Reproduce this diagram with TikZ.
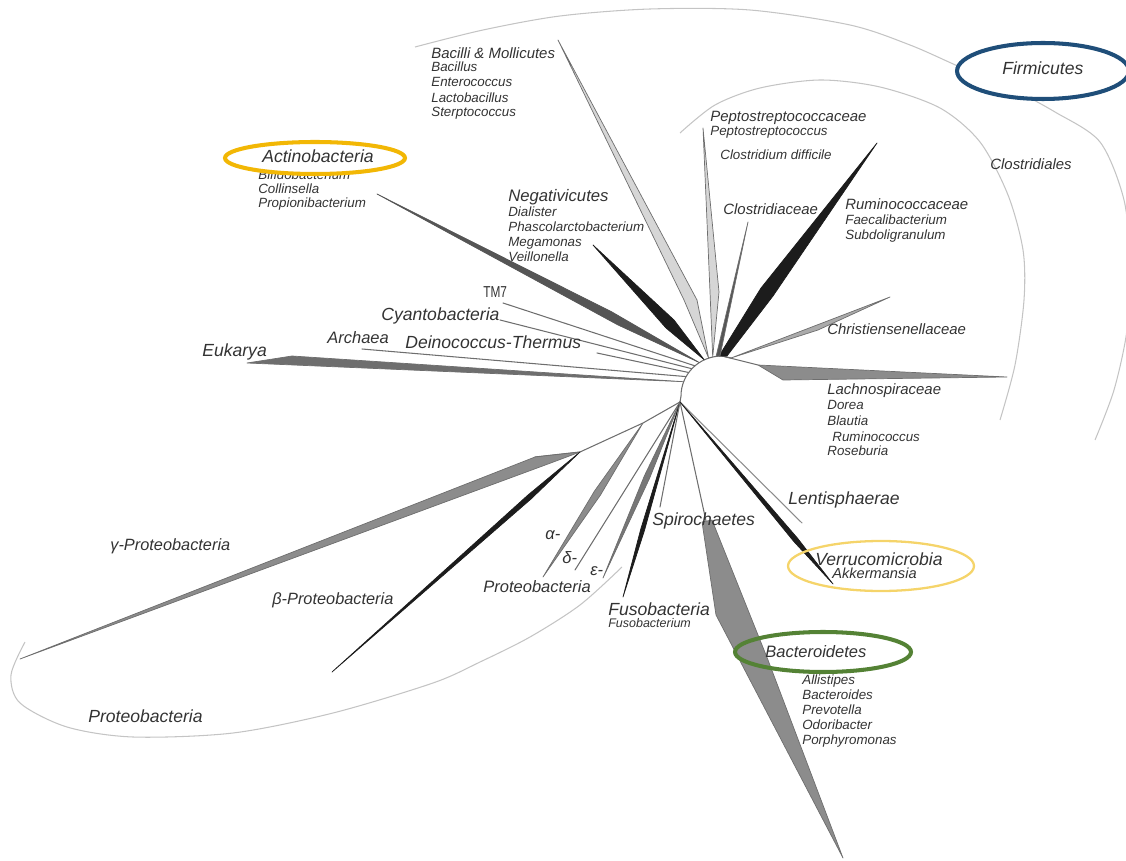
\documentclass[tikz,border=0pt]{standalone}
\usepackage{graphicx}
\usepackage{fontspec}
\setmainfont{Liberation Sans}
\begin{document}
\begin{tikzpicture}[x=0.02cm,y=-0.02cm,
  branch/.style={draw=treecolor1,line width=0.6pt,line cap=round},
  wedge/.style={draw=treecolor1,line width=0.4pt,line join=round},
  ring/.style={draw=treecolor2,line width=0.6pt},
  oval/.style={line width=2.3pt},
  phylum/.style={anchor=base west,inner sep=0pt,text=treecolor0,font=\fontsize{10}{12}\selectfont\itshape},
  family/.style={anchor=base west,inner sep=0pt,text=treecolor0,font=\fontsize{8.5}{10}\selectfont\itshape},
  genus/.style={anchor=base west,inner sep=0pt,text=treecolor0,font=\fontsize{7.6}{9}\selectfont\itshape}]
\definecolor{treecolor0}{HTML}{333333}
\definecolor{treecolor1}{HTML}{6E6E6E}
\definecolor{treecolor2}{HTML}{C4C4C4}
\definecolor{treecolor3}{HTML}{1C1C1C}
\definecolor{treecolor4}{HTML}{555555}
\definecolor{treecolor5}{HTML}{8C8C8C}
\definecolor{treecolor6}{HTML}{D6D6D6}
\definecolor{treecolor7}{HTML}{1F4E79}
\definecolor{treecolor8}{HTML}{F2B705}
\definecolor{treecolor9}{HTML}{F5D46A}
\definecolor{treecolor10}{HTML}{548235}
\useasboundingbox (0,0) rectangle (1126,861);
\clip (0,0) rectangle (1126,861);
% group arcs
\draw[ring] plot[smooth] coordinates {(415,47) (483,30) (560,16) (650,9) (750,10) (850,25) (910,45) (960,67) (1010,88) (1055,112) (1100,142) (1124,200) (1130,265) (1127,330) (1114,390) (1095,440)};
\draw[ring] plot[smooth] coordinates {(680,133) (715,105) (760,88) (820,80) (880,87) (940,108) (980,142) (1008,195) (1023,250) (1024,300) (1015,365) (1000,420)};
\draw[ring] plot[smooth] coordinates {(25,642) (11,675) (20,703) (67,727) (133,737) (233,733) (333,713) (433,683) (480,662) (530,637) (580,605) (622,567)};
% hub
\coordinate (top) at (722,356);
\coordinate (hub) at (680,402);
\coordinate (prot) at (643,423);
\coordinate (gam) at (580,452);
\draw[branch] (top) .. controls (699,356) and (681,374) .. (681,396) -- (hub);
\coordinate (a-clo) at (716.1,356.3);
\coordinate (a-pep) at (712.7,356.9);
\coordinate (a-bac) at (708.6,358.0);
\coordinate (a-neg) at (704.1,359.7);
\coordinate (a-act) at (699.2,362.5);
\coordinate (a-tm7) at (694.8,365.8);
\coordinate (a-cya) at (691.7,368.7);
\coordinate (a-dei) at (688.6,372.5);
\coordinate (a-arc) at (686.0,376.6);
\coordinate (a-euk) at (683.7,381.7);
% tips
\coordinate (lachno) at (1007,377);
\coordinate (christ) at (890,297);
\coordinate (rumin) at (877,143);
\coordinate (clostr) at (748,222);
\coordinate (pepto) at (703,128);
\coordinate (bacil) at (558,40);
\coordinate (negat) at (593,245);
\coordinate (actino) at (377,194);
\coordinate (tm7) at (503,303);
\coordinate (cyan) at (500,320);
\coordinate (dein) at (597,353);
\coordinate (arch) at (362,349);
\coordinate (euk) at (247,363);
\coordinate (gamma) at (20,659);
\coordinate (beta) at (332,672);
\coordinate (alpha) at (543,577);
\coordinate (delta) at (575,570);
\coordinate (eps) at (603,578);
\coordinate (fuso) at (623,597);
\coordinate (spiro) at (660,507);
\coordinate (bact) at (843,858);
\coordinate (lenti) at (802,523);
\coordinate (verru) at (833,584);
% Firmicutes side
\draw[branch] (top) -- (758,365);
\filldraw[wedge,fill=treecolor5] (758,365) -- (lachno) -- (783,380) -- cycle;
\filldraw[wedge,fill=treecolor6!80!black] (731,358) -- (christ) -- (818,330) -- cycle;
\draw[branch] (top) -- (731,358);
\filldraw[wedge,draw=treecolor3,fill=treecolor3] (rumin) -- (773,296) -- (727,356) -- (719,356) -- (761,288) -- cycle;
\filldraw[wedge,fill=treecolor4] (clostr) -- (720,356) -- (a-clo) -- cycle;
\filldraw[wedge,fill=treecolor6] (pepto) -- (719,292) -- (a-pep) -- (710,292) -- cycle;
\filldraw[wedge,fill=treecolor6] (bacil) -- (697,300) -- (a-bac) -- (684,300) -- cycle;
\filldraw[wedge,draw=treecolor3,fill=treecolor3] (negat) -- (674,320) -- (a-neg) -- (666,328) -- cycle;
% other phyla on the upper arc
\filldraw[wedge,draw=treecolor4,fill=treecolor4] (actino) -- (612,312) -- (a-act) -- (618,325) -- cycle;
\draw[branch] (tm7) -- (a-tm7);
\draw[branch] (cyan) -- (a-cya);
\draw[branch] (dein) -- (a-dei);
\draw[branch] (arch) -- (a-arc);
\filldraw[wedge,fill=treecolor4!85] (euk) -- (292,356) -- (a-euk) -- cycle;
% lower hub
\draw[branch] (hub) -- (prot) -- (gam) -- (535,457);
\filldraw[wedge,fill=treecolor5] (gamma) -- (535,457) -- (gam) -- (548,464) -- cycle;
\filldraw[wedge,draw=treecolor3,fill=treecolor3] (beta) -- (528,495) -- (gam) -- (531,499) -- cycle;
\filldraw[wedge,fill=treecolor5] (alpha) -- (600.5,495) -- (prot) -- (594.5,491) -- cycle;
\draw[branch] (delta) -- (hub);
\filldraw[wedge,fill=treecolor4!80] (eps) -- (649.7,478) -- (hub) -- (644.3,476) -- cycle;
\filldraw[wedge,draw=treecolor3,fill=treecolor3] (fuso) -- (644.6,530) -- (hub) -- (640.8,529) -- cycle;
\draw[branch] (spiro) -- (hub);
\draw[branch] (hub) -- (706,521);
\filldraw[wedge,fill=treecolor5] (702,522) -- (712,520) -- (768,660) -- (bact) -- (716,615) -- cycle;
\draw[branch,draw=treecolor5] (hub) -- (lenti);
\filldraw[wedge,draw=treecolor3,fill=treecolor3] (hub) -- (797.6,538.3) -- (verru) -- (793.8,541.5) -- cycle;
% highlighted groups
\draw[oval,draw=treecolor7,fill=white] (1043,71) ellipse [x radius=1.72cm,y radius=0.56cm];
\node[genus] (bifido) at (258,180) {Bifidobacterium};
\draw[oval,draw=treecolor8,fill=white] (315,158) ellipse [x radius=1.8cm,y radius=0.32cm];
\draw[oval,line width=1.3pt,draw=treecolor9] (881,566) ellipse [x radius=1.86cm,y radius=0.5cm];
\draw[oval,draw=treecolor10] (823,652) ellipse [x radius=1.76cm,y radius=0.4cm];
% labels
\node[phylum] (firmicutes) at (1002,75) {Firmicutes};
\node[family] (clostridiales) at (990,170) {Clostridiales};
\node[family] (bacilli) at (431,59) {Bacilli \& Mollicutes};
\node[genus] (bacillus) at (431,72) {Bacillus};
\node[genus] (entero) at (431,87) {Enterococcus};
\node[genus] (lacto) at (431,103) {Lactobacillus};
\node[genus] (strepto) at (431,117) {Sterptococcus};
\node[family] (peptofam) at (710,122) {Peptostreptococcaceae};
\node[genus] (peptogen) at (710,136) {Peptostreptococcus};
\node[genus] (cdiff) at (720,160) {Clostridium difficile};
\node[family] (clostrfam) at (723,215) {Clostridiaceae};
\node[family] (ruminfam) at (845,210) {Ruminococcaceae};
\node[genus] (faecali) at (845,225) {Faecalibacterium};
\node[genus] (subdoli) at (845,240) {Subdoligranulum};
\node[family] (christfam) at (827,335) {Christiensenellaceae};
\node[family] (lachnofam) at (827,395) {Lachnospiraceae};
\node[genus] (dorea) at (827,410) {Dorea};
\node[genus] (blautia) at (827,426) {Blautia};
\node[genus] (ruminoc) at (832,441) {Ruminococcus};
\node[genus] (roseb) at (827,456) {Roseburia};
\node[phylum] (actinolab) at (262,163) {Actinobacteria};
\node[genus] (collin) at (258,194) {Collinsella};
\node[genus] (propioni) at (258,208) {Propionibacterium};
\node[phylum,font=\fontsize{9.5}{11}\selectfont\itshape] (negatlab) at (508,202) {Negativicutes};
\node[genus] (dialister) at (508,217) {Dialister};
\node[genus] (phasco) at (508,232) {Phascolarctobacterium};
\node[genus] (megamonas) at (508,247) {Megamonas};
\node[genus] (veillon) at (508,262) {Veillonella};
\node[phylum,font=\fontsize{9}{11}\selectfont] (tm7lab) at (483,298) {\scalebox{0.75}[1]{TM7}};
\node[phylum] (cyanlab) at (381,321) {Cyantobacteria};
\node[phylum] (deinlab) at (405,349) {Deinococcus-Thermus};
\node[phylum,font=\fontsize{9.4}{11}\selectfont\itshape] (archlab) at (327,344) {Archaea};
\node[phylum] (euklab) at (202,357) {Eukarya};
\node[phylum] (lentilab) at (788,504) {Lentisphaerae};
\node[phylum] (verrulab) at (815,565) {Verrucomicrobia};
\node[family,font=\fontsize{8.3}{10}\selectfont\itshape] (akker) at (832,578) {Akkermansia};
\node[phylum] (spirolab) at (652,525) {Spirochaetes};
\node[phylum,font=\fontsize{9.4}{11}\selectfont\itshape] (alphalab) at (545,540) {α-};
\node[phylum,font=\fontsize{9.4}{11}\selectfont\itshape] (deltalab) at (562,563) {δ-};
\node[phylum,font=\fontsize{9.4}{11}\selectfont\itshape] (epslab) at (590,575) {ε-};
\node[phylum,font=\fontsize{9.4}{11}\selectfont\itshape] (protlab) at (483,592) {Proteobacteria};
\node[phylum] (fusolab) at (608,615) {Fusobacteria};
\node[genus,font=\fontsize{7.1}{9}\selectfont\itshape] (fusogen) at (608,627) {Fusobacterium};
\node[phylum,font=\fontsize{9.4}{11}\selectfont\itshape] (bactlab) at (765,657) {Bacteroidetes};
\node[genus] (allis) at (802,684) {Allistipes};
\node[genus] (bacteroides) at (802,699) {Bacteroides};
\node[genus] (prevo) at (802,714) {Prevotella};
\node[genus] (odori) at (802,729) {Odoribacter};
\node[genus] (porphy) at (802,744) {Porphyromonas};
\node[phylum,font=\fontsize{9.3}{11}\selectfont\itshape] (gammalab) at (110,550) {γ-Proteobacteria};
\node[phylum,font=\fontsize{9.3}{11}\selectfont\itshape] (betalab) at (272,604) {β-Proteobacteria};
\node[phylum] (protarc) at (88,722) {Proteobacteria};
\end{tikzpicture}
\end{document}
